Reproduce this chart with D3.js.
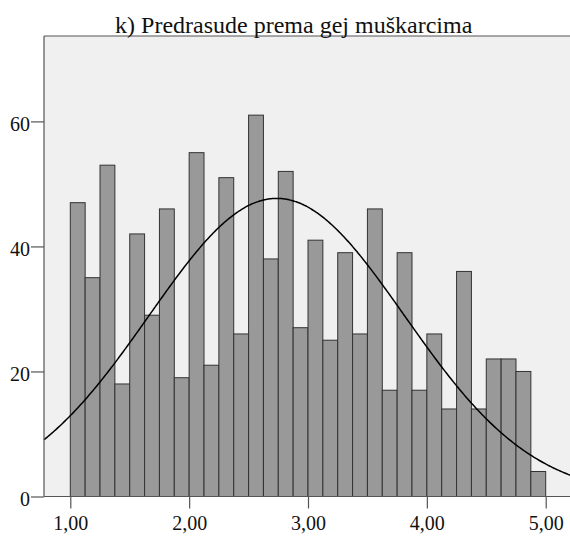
<!DOCTYPE html>
<html>
<head>
<meta charset="utf-8">
<script src="https://cdn.jsdelivr.net/npm/d3@7"></script>
<style>
  html, body { margin: 0; padding: 0; background: #ffffff; }
  svg { display: block; }
</style>
</head>
<body>
<script>
// ---- data ----
const title = "k) Predrasude prema gej muškarcima";
const binStart = 1.0;
const binWidth = 0.125;
const counts = [47, 35, 53, 18, 42, 29, 46, 19, 55, 21, 51, 26, 61, 38, 52, 27,
                41, 25, 39, 26, 46, 17, 39, 17, 26, 14, 36, 14, 22, 22, 20, 4];
const xTicks = [1, 2, 3, 4, 5];
const xTickLabels = ["1,00", "2,00", "3,00", "4,00", "5,00"];
const yTicks = [0, 20, 40, 60];
const yTickLabels = ["0", "20", "40", "60"];
// fitted normal curve parameters
const curveMean = 2.737;
const curveSD = 1.075;
const curveN = d3.sum(counts);

// ---- layout ----
const W = 570, H = 537;
const plotLeft = 44, plotRight = 572, plotTop = 36, plotBottom = 496.5;
const FONT = "'Liberation Serif'";

const svg = d3.select("body").append("svg").attr("width", W).attr("height", H);

const x = d3.scaleLinear().domain([1, 5]).range([70.3, 545.7]);
const y = d3.scaleLinear().domain([0, 60]).range([plotBottom, 121.4]);

// background
svg.append("rect")
  .attr("x", plotLeft).attr("y", plotTop)
  .attr("width", plotRight - plotLeft).attr("height", plotBottom - plotTop)
  .attr("fill", "#f0f0f0");

// bars
svg.append("g").selectAll("rect")
  .data(counts)
  .join("rect")
  .attr("x", (d, i) => x(binStart + i * binWidth))
  .attr("width", (d, i) => x(binStart + (i + 1) * binWidth) - x(binStart + i * binWidth))
  .attr("y", d => y(d))
  .attr("height", d => y(0) - y(d))
  .attr("fill", "#999999")
  .attr("stroke", "#333333")
  .attr("stroke-width", 1);

// normal curve
const xDom = [x.invert(plotLeft), x.invert(plotRight)];
const curvePts = d3.range(0, 401).map(k => {
  const xv = xDom[0] + (xDom[1] - xDom[0]) * k / 400;
  const z = (xv - curveMean) / curveSD;
  const yv = curveN * binWidth * Math.exp(-0.5 * z * z) / (curveSD * Math.sqrt(2 * Math.PI));
  return [xv, yv];
});
svg.append("path")
  .datum(curvePts)
  .attr("fill", "none")
  .attr("stroke", "#000")
  .attr("stroke-width", 1.5)
  .attr("d", d3.line().x(d => x(d[0])).y(d => y(d[1])).curve(d3.curveBasis));

// frame lines
svg.append("line").attr("x1", plotLeft).attr("x2", plotRight).attr("y1", plotTop).attr("y2", plotTop)
  .attr("stroke", "#555").attr("stroke-width", 1.2);
svg.append("line").attr("x1", plotLeft).attr("x2", plotLeft).attr("y1", plotTop).attr("y2", plotBottom)
  .attr("stroke", "#555").attr("stroke-width", 1.2);
svg.append("line").attr("x1", plotLeft).attr("x2", plotRight).attr("y1", plotBottom).attr("y2", plotBottom)
  .attr("stroke", "#555").attr("stroke-width", 1.2);

// axes
const xAxis = d3.axisBottom(x).tickValues(xTicks)
  .tickFormat((d, i) => xTickLabels[i]).tickSize(12).tickPadding(7);
const gx = svg.append("g").attr("transform", `translate(0,${plotBottom})`).call(xAxis);
gx.attr("font-family", null).attr("font-size", null);
gx.select(".domain").remove();
gx.selectAll(".tick line").attr("stroke", "#555").attr("stroke-width", 1.2);
gx.selectAll(".tick text").style("font-size", "20px").style("font-family", FONT).attr("fill", "#111");

const yAxis = d3.axisLeft(y).tickValues(yTicks)
  .tickFormat((d, i) => yTickLabels[i]).tickSize(13).tickPadding(1);
const gy = svg.append("g").attr("transform", `translate(${plotLeft},0)`).call(yAxis);
gy.attr("font-family", null).attr("font-size", null);
gy.select(".domain").remove();
gy.selectAll(".tick line").attr("stroke", "#555").attr("stroke-width", 1.2);
gy.selectAll(".tick text").style("font-size", "20px").style("font-family", FONT)
  .attr("fill", "#111").attr("dy", "0.44em");

// title
svg.append("text")
  .attr("x", 293.7).attr("y", 32.5)
  .attr("text-anchor", "middle")
  .style("font-size", "24px")
  .style("font-family", FONT)
  .attr("fill", "#111")
  .text(title);
</script>
</body>
</html>
